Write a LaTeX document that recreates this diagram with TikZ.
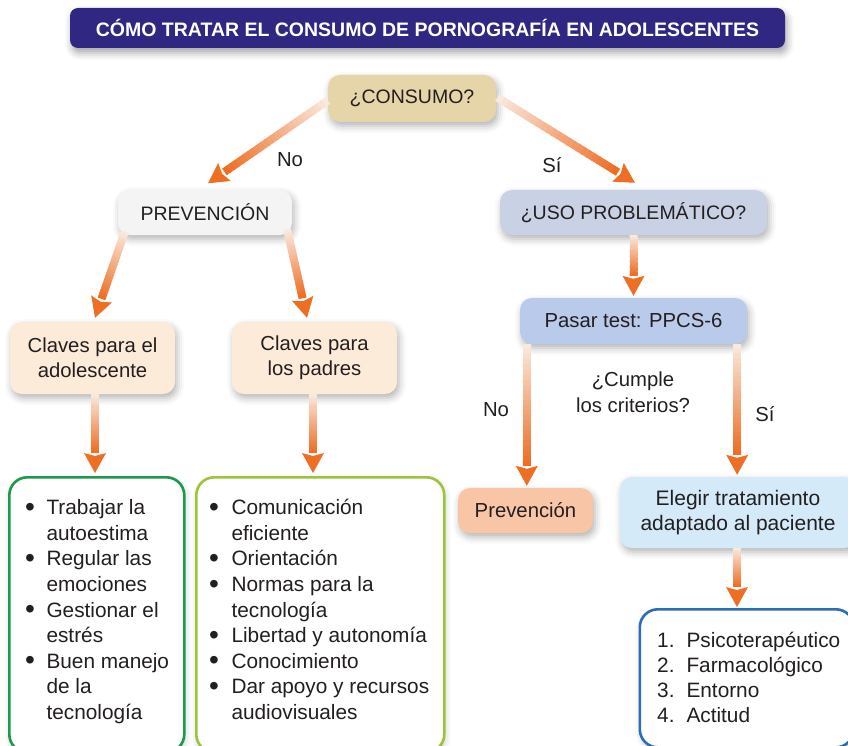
\documentclass[tikz,border=0pt]{standalone}
\usepackage{fontspec}
\setmainfont{Liberation Sans}
\usetikzlibrary{calc,shadows.blur}
\definecolor{titlebg}{HTML}{2F2782}
\definecolor{consFill}{HTML}{E6D5A9}
\definecolor{prevFill}{HTML}{F4F4F4}
\definecolor{usoFill}{HTML}{C9D1E5}
\definecolor{clFill}{HTML}{FDEBD9}
\definecolor{pasFill}{HTML}{B9CAEA}
\definecolor{prvFill}{HTML}{F8C5A6}
\definecolor{eleFill}{HTML}{D5EAF9}
\definecolor{greenA}{HTML}{1B9A4A}
\definecolor{greenB}{HTML}{9CC43A}
\definecolor{blueL}{HTML}{2C6EB5}
\definecolor{arrOrange}{HTML}{EE6E24}
\definecolor{arrPale}{HTML}{F9E8DC}
\definecolor{txt}{HTML}{231F20}
\newcommand\bodyfont{\fontsize{20.3}{25}\selectfont}
\newcommand\bul{\raisebox{-1.6pt}{\scalebox{1.35}{\textbullet}}}
\newcommand\garrow[2]{%
  \coordinate (ga-s) at (#1);
  \coordinate (ga-t) at (#2);
  \coordinate (ga-b) at ($(ga-t)!20pt!(ga-s)$);
  \foreach \i in {0,...,23}{%
    \pgfmathsetmacro\ga{\i/24}%
    \pgfmathsetmacro\gb{min((\i+1)/24+0.01,1)}%
    \pgfmathsetmacro\gc{100*\i/23}%
    \draw[line width=8pt, color=arrOrange!\gc!arrPale] ($(ga-s)!\ga!(ga-b)$) -- ($(ga-s)!\gb!(ga-b)$);
  }
  \fill[arrOrange] (ga-t) -- ($(ga-b)!11pt!90:(ga-t)$) -- ($(ga-b)!3pt!(ga-t)$) -- ($(ga-b)!11pt!-90:(ga-t)$) -- cycle;
}
\tikzset{
  box/.style={rounded corners=12pt, inner sep=0pt, align=center, text=txt,
    font=\bodyfont,
    blur shadow={shadow xshift=2pt, shadow yshift=-4pt, shadow blur radius=7pt, shadow opacity=30}},
  capsfont/.style={font=\fontsize{19.5}{24}\selectfont},
  titlebox/.style={rounded corners=8pt, fill=titlebg, text=white, inner sep=0pt,
    font=\fontsize{19.5}{24}\selectfont\bfseries,
    blur shadow={shadow xshift=2pt, shadow yshift=-5pt, shadow blur radius=7pt, shadow opacity=35}},
  lbox/.style={draw, line width=2.6pt, rounded corners=18pt, fill=white, inner sep=0pt, anchor=north west,
    blur shadow={shadow xshift=1pt, shadow yshift=-3pt, shadow blur radius=6pt, shadow opacity=20}},
  ltext/.style={anchor=north west, inner sep=0pt, text=txt, font=\fontsize{20.8}{25.6}\selectfont, align=left},
  lbl/.style={inner sep=0pt, text=txt, font=\bodyfont, align=center}
}
\begin{document}
\begin{tikzpicture}[x=1pt,y=-1pt]
\useasboundingbox (0,0) rectangle (848,746);
\clip (0,0) rectangle (848,746);

% title
\node[titlebox, minimum width=715pt, minimum height=40pt] (title) at (427.5,28) {CÓMO TRATAR EL CONSUMO DE PORNOGRAFÍA EN ADOLESCENTES};

% decision nodes
\node[box, capsfont, fill=consFill, minimum width=168pt, minimum height=47pt] (cons) at (412,98.5) {¿CONSUMO?};
\node[box, capsfont, fill=prevFill, minimum width=174pt, minimum height=45pt] (prev) at (205,212.5) {PREVENCIÓN};
\node[box, capsfont, fill=usoFill, minimum width=267pt, minimum height=45pt] (uso) at (633.5,212.5) {¿USO PROBLEMÁTICO?};
\node[box, fill=clFill, minimum width=165pt, minimum height=72pt] (cla) at (92.5,358) {Claves para el\\adolescente};
\node[box, fill=clFill, minimum width=165pt, minimum height=72pt] (clp) at (314.5,358) {Claves para\\los padres};
\node[box, fill=pasFill, minimum width=227pt, minimum height=46pt] (pas) at (633.5,321) {Pasar test: PPCS-6};
\node[box, fill=prvFill, minimum width=135pt, minimum height=45pt] (prv) at (525.5,510.5) {Prevención};
\node[box, fill=eleFill, font=\fontsize{21}{25}\selectfont, minimum width=236pt, minimum height=71pt] (ele) at (738,512.5) {Elegir tratamiento\\adaptado al paciente};

% list boxes
\node[lbox, draw=greenA, minimum width=175pt, minimum height=275pt] (l1) at (8,476) {};
\node[lbox, draw=greenB, minimum width=248pt, minimum height=275pt] (l2) at (195,476) {};
\node[lbox, draw=blueL, minimum width=214pt, minimum height=138pt] (l3) at (638.5,608) {};

\node[ltext] (t1) at (25,496.6) {\begin{tabular}{@{}l@{\hspace{11.5pt}}l@{}}
\bul & Trabajar la\\
 & autoestima\\
\bul & Regular las\\
 & emociones\\
\bul & Gestionar el\\
 & estrés\\
\bul & Buen manejo\\
 & de la\\
 & tecnología
\end{tabular}};
\node[ltext] (t2) at (209,496.6) {\begin{tabular}{@{}l@{\hspace{12.5pt}}l@{}}
\bul & Comunicación\\
 & eficiente\\
\bul & Orientación\\
\bul & Normas para la\\
 & tecnología\\
\bul & Libertad y autonomía\\
\bul & Conocimiento\\
\bul & Dar apoyo y recursos\\
 & audiovisuales
\end{tabular}};
\node[ltext, font=\fontsize{20.8}{25}\selectfont] (t3) at (657,629.5) {\begin{tabular}{@{}l@{\hspace{12pt}}l@{}}
1. & Psicoterapéutico\\
2. & Farmacológico\\
3. & Entorno\\
4. & Actitud
\end{tabular}};

% labels
\node[lbl] (lno1) at (290,160) {No};
\node[lbl] (lsi1) at (552,165) {Sí};
\node[lbl] (lno2) at (496,410) {No};
\node[lbl, font=\fontsize{20.3}{26}\selectfont] (lcum) at (633,392) {¿Cumple\\los criterios?};
\node[lbl] (lsi2) at (765,414) {Sí};

% arrows
\garrow{$(cons.west)+(0,2)$}{$(prev.north)+(3,-6.5)$}
\garrow{$(cons.east)+(1,-1)$}{$(uso.north)+(1.5,-7)$}
\garrow{$(prev.south west)+(7,-3.5)$}{$(cla.north)+(2.5,-4)$}
\garrow{$(prev.south east)+(-5,-5.5)$}{$(clp.north)+(-7.5,-4)$}
\garrow{$(cla.south)+(2.5,0)$}{$(cla.south|-l1.north)+(2.5,-3)$}
\garrow{$(clp.south)+(-1.5,0)$}{$(clp.south|-l2.north)+(-1.5,-3)$}
\garrow{uso.south}{$(pas.north)+(0,-2)$}
\garrow{$(pas.south west)+(7,0)$}{$(pas.south west|-prv.north)+(7,-2)$}
\garrow{$(pas.south east)+(-10,0)$}{$(pas.south east|-ele.north)+(-10,-2)$}
\garrow{$(ele.south)+(-1,0)$}{$(ele.south|-l3.north)+(-1,-1)$}
\end{tikzpicture}
\end{document}
